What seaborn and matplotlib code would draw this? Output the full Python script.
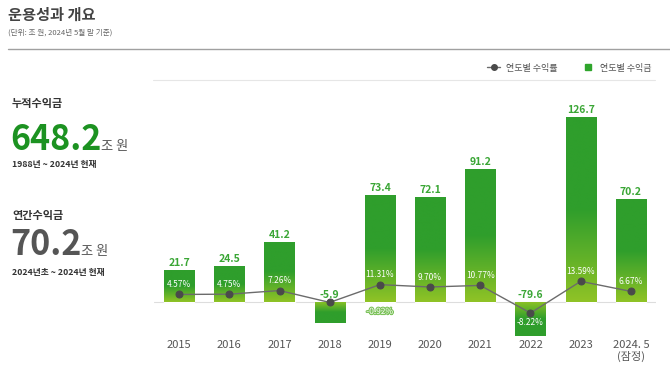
import numpy as np
import pandas as pd
import matplotlib
matplotlib.use("Agg")
import matplotlib.pyplot as plt
import seaborn as sns
from matplotlib.lines import Line2D
import matplotlib.patheffects as pe

# ---------------- data ----------------
years = ["2015", "2016", "2017", "2018", "2019", "2020", "2021", "2022", "2023", "2024. 5\n(잠정)"]
profit = [21.7, 24.5, 41.2, -5.9, 73.4, 72.1, 91.2, -79.6, 126.7, 70.2]
rate = [4.57, 4.75, 7.26, -0.92, 11.31, 9.70, 10.77, -8.22, 13.59, 6.67]
title = "운용성과 개요"
subtitle = "(단위: 조 원, 2024년 5월 말 기준)"
cum_label, cum_value, cum_period = "누적수익금", "648.2", "1988년 ~ 2024년 현재"
ann_label, ann_value, ann_period = "연간수익금", "70.2", "2024년초 ~ 2024년 현재"
unit = "조 원"
legend_line, legend_bar = "연도별 수익률", "연도별 수익금"

# ---------------- style ----------------
sns.set_theme(style="white")
plt.rcParams["font.family"] = ["Noto Sans CJK KR", "DejaVu Sans"]

DARK = np.array([0x2f, 0x9e, 0x2c]) / 255
LIGHT = np.array([0x90, 0xc3, 0x26]) / 255
LABEL_GREEN = "#3aa635"

W, H = 670, 373
fig = plt.figure(figsize=(W / 100, H / 100), dpi=100)
ax = fig.add_axes([154 / W, 1 - 336 / H, 502 / W, 256 / H])

df = pd.DataFrame({"year": years, "profit": profit})

K = 5.93
def fwd(y):
    y = np.asarray(y, float)
    return np.where(y >= 0, y, -K * np.sqrt(np.abs(y)))
def inv(u):
    u = np.asarray(u, float)
    return np.where(u >= 0, u, -(u / K) ** 2)

sns.barplot(data=df, x="year", y="profit", ax=ax, color="#2f9e2c",
            width=0.6, saturation=1, errorbar=None, zorder=2)
ax.set_yscale("function", functions=(fwd, inv))
YLO, YHI = float(inv(-23.3)), 152.0
ax.set_xlim(-0.5, 9.5)
ax.set_ylim(YLO, YHI)

# gradient fill for each bar
d2a = ax.transData + ax.transAxes.inverted()
for bar, v in zip(ax.containers[0], profit):
    x0 = bar.get_x(); x1 = x0 + bar.get_width()
    (ax0, ay0) = d2a.transform((x0, min(0, v)))
    (ax1, ay1) = d2a.transform((x1, max(0, v)))
    ay0 = max(ay0, 0.0); ay1 = min(ay1, 1.0)
    n = 200
    s = np.linspace(0, 1, n)  # bottom -> top
    if v >= 0:
        t = np.clip(s / 0.5, 0, 1)
    else:
        t = np.clip((1 - s) / 0.5, 0, 1)
    cols = LIGHT[None, :] * (1 - t[:, None]) + DARK[None, :] * t[:, None]
    img = cols[:, None, :]
    im = ax.imshow(img, extent=(ax0, ax1, ay0, ay1), transform=ax.transAxes,
                   origin="lower", aspect="auto", interpolation="bilinear", zorder=3)
    im.set_clip_path(bar)
ax.set_xlim(-0.5, 9.5)
ax.set_ylim(YLO, YHI)

ax.axhline(0, color="#dddddd", lw=0.8, zorder=1)

# value labels
for i, v in enumerate(profit):
    ax.annotate(f"{v:.1f}", xy=(i, max(v, 0)), xytext=(0, 1.5), textcoords="offset points",
                ha="center", va="bottom", fontsize=7.5, fontweight="bold",
                color=LABEL_GREEN, zorder=6)

for s_ in ax.spines.values():
    s_.set_visible(False)
ax.set_yticks([])
ax.set_xlabel(""); ax.set_ylabel("")
ax.tick_params(axis="x", length=0, pad=3, labelsize=8, labelcolor="#555555")
ax.set_xticks(range(len(years)))
ax.set_xticklabels(years, linespacing=1.1)

# rate line on twin axis
ax2 = ax.twinx()
sns.lineplot(x=np.arange(len(rate)), y=rate, ax=ax2, color="#6b6b6b", lw=1,
             marker="o", markersize=5, markerfacecolor="#4a4a4a",
             markeredgecolor="#4a4a4a", zorder=5)
ax2.set_ylim(-24, 152)
ax2.set_yticks([])
ax2.set_ylabel("")
for s_ in ax2.spines.values():
    s_.set_visible(False)

for i, r in enumerate(rate):
    txt = f"{r:.2f}%"
    if i == 3:
        ax2.annotate(txt, xy=(i, r), xytext=(36, -6.5), textcoords="offset points",
                     ha="center", va="center", fontsize=6, color="white",
                     path_effects=[pe.withStroke(linewidth=1.6, foreground="#7cc25a")])
    elif r < 0:
        ax2.annotate(txt, xy=(i, r), xytext=(0, -6.5), textcoords="offset points",
                     ha="center", va="center", fontsize=6, color="white")
    else:
        ax2.annotate(txt, xy=(i, r), xytext=(0, 7), textcoords="offset points",
                     ha="center", va="center", fontsize=6, color="white")
ax.set_xlim(-0.5, 9.5)

# legend
handles = [
    Line2D([0], [0], color="#6b6b6b", lw=1, marker="o", markersize=4,
           markerfacecolor="#4a4a4a", markeredgecolor="#4a4a4a"),
    Line2D([0], [0], ls="none", marker="s", markersize=5, color="#2fa52c"),
]
leg = fig.legend(handles, [legend_line, legend_bar], loc="center right",
                 bbox_to_anchor=(660 / W, 1 - 68 / H), ncol=2, frameon=False,
                 fontsize=6.5, handlelength=1.4, columnspacing=2.6, handletextpad=0.7)
for t in leg.get_texts():
    t.set_color("#555555")

# separator lines
fig.add_artist(Line2D([153 / W, 655 / W], [1 - 80 / H] * 2, color="#e6e6e6", lw=0.8))
fig.add_artist(Line2D([8 / W, 1.0], [1 - 49 / H] * 2, color="#a0a0a0", lw=1))

# header
fig.text(8 / W, 1 - 15 / H, title, fontsize=11, fontweight="bold", color="#444444",
         ha="left", va="center")
fig.text(8 / W, 1 - 33 / H, subtitle, fontsize=5.5, color="#666666", ha="left", va="center")

# left panel
fig.text(12 / W, 1 - 104 / H, cum_label, fontsize=8, fontweight="bold", color="#333333",
         ha="left", va="center")
big1 = fig.text(10 / W, 1 - 150 / H, cum_value, fontsize=24.5, fontweight="bold",
                color="#1c9221", ha="left", va="baseline")
fig.text(12 / W, 1 - 164 / H, cum_period, fontsize=6.3, fontweight="bold", color="#333333",
         ha="left", va="center")

fig.text(12 / W, 1 - 215 / H, ann_label, fontsize=8, fontweight="bold", color="#333333",
         ha="left", va="center")
big2 = fig.text(10 / W, 1 - 255 / H, ann_value, fontsize=24.5, fontweight="bold",
                color="#555555", ha="left", va="baseline")
fig.text(12 / W, 1 - 273 / H, ann_period, fontsize=6.3, fontweight="bold", color="#333333",
         ha="left", va="center")

fig.canvas.draw()
r = fig.canvas.get_renderer()
for big, yb in [(big1, 150), (big2, 255)]:
    bb = big.get_window_extent(r)
    fig.text(bb.x1 / W, 1 - yb / H, unit, fontsize=9.5, color="#555555",
             ha="left", va="baseline")

fig.savefig("out.png", dpi=100)
